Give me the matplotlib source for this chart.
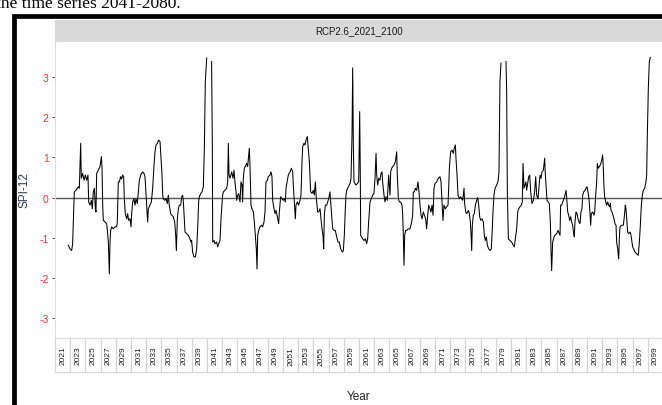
import numpy as np
import matplotlib
matplotlib.use("Agg")
from matplotlib import pyplot as plt
from matplotlib import patches, transforms

# SPI-12 series (decimal year, value)
year = [
    2021.75, 2021.97, 2022.19, 2022.32, 2022.41, 2022.54, 2022.76, 2023.07, 2023.20, 2023.38,
    2023.46, 2023.64, 2023.82, 2023.99, 2024.17, 2024.34, 2024.43, 2024.61, 2024.78, 2024.91,
    2025.04, 2025.18, 2025.31, 2025.39, 2025.48, 2025.70, 2025.92, 2026.10, 2026.19, 2026.27,
    2026.36, 2026.58, 2026.80, 2026.93, 2027.02, 2027.15, 2027.24, 2027.32, 2027.46, 2027.68,
    2027.89, 2028.11, 2028.20, 2028.33, 2028.46, 2028.64, 2028.77, 2028.90, 2029.03, 2029.12,
    2029.25, 2029.43, 2029.56, 2029.69, 2029.87, 2030.00, 2030.09, 2030.22, 2030.39, 2030.53,
    2030.66, 2030.83, 2031.01, 2031.10, 2031.27, 2031.53, 2031.71, 2031.84, 2031.93, 2032.06,
    2032.19, 2032.28, 2032.50, 2032.68, 2032.85, 2033.03, 2033.16, 2033.29, 2033.47, 2033.64,
    2033.82, 2033.95, 2034.08, 2034.17, 2034.25, 2034.43, 2034.61, 2034.78, 2034.91, 2035.04,
    2035.22, 2035.35, 2035.57, 2035.75, 2035.88, 2035.97, 2036.10, 2036.23, 2036.36, 2036.54,
    2036.67, 2036.80, 2036.89, 2037.02, 2037.11, 2037.33, 2037.54, 2037.76, 2037.90, 2037.98,
    2038.11, 2038.29, 2038.47, 2038.64, 2038.77, 2038.90, 2038.99, 2039.17, 2039.34, 2039.52,
    2039.65, 2039.78, 2039.96, 2040.10, 2040.50, 2040.61, 2040.70, 2040.75, 2040.92, 2041.05,
    2041.27, 2041.40, 2041.54, 2041.71, 2041.84, 2041.97, 2042.06, 2042.15, 2042.37, 2042.59,
    2042.72, 2042.81, 2042.90, 2043.03, 2043.25, 2043.42, 2043.55, 2043.68, 2043.82, 2043.90,
    2044.04, 2044.17, 2044.34, 2044.47, 2044.61, 2044.69, 2044.78, 2044.91, 2045.04, 2045.22,
    2045.35, 2045.48, 2045.57, 2045.66, 2045.79, 2045.92, 2046.10, 2046.23, 2046.36, 2046.49,
    2046.58, 2046.67, 2046.80, 2046.97, 2047.19, 2047.32, 2047.50, 2047.63, 2047.76, 2047.94,
    2048.07, 2048.29, 2048.42, 2048.55, 2048.64, 2048.82, 2048.95, 2049.08, 2049.26, 2049.43,
    2049.52, 2049.69, 2049.87, 2050.04, 2050.18, 2050.31, 2050.40, 2050.57, 2050.70, 2050.92,
    2051.10, 2051.27, 2051.36, 2051.49, 2051.62, 2051.71, 2051.89, 2052.06, 2052.24, 2052.37,
    2052.50, 2052.59, 2052.76, 2052.90, 2053.03, 2053.20, 2053.33, 2053.47, 2053.55, 2053.64,
    2053.82, 2053.99, 2054.12, 2054.26, 2054.34, 2054.43, 2054.56, 2054.69, 2054.87, 2055.00,
    2055.13, 2055.26, 2055.35, 2055.44, 2055.57, 2055.75, 2055.88, 2056.01, 2056.18, 2056.27,
    2056.40, 2056.54, 2056.71, 2056.89, 2057.06, 2057.24, 2057.41, 2057.59, 2057.81, 2057.94,
    2058.07, 2058.20, 2058.29, 2058.38, 2058.60, 2058.82, 2058.95, 2059.08, 2059.17, 2059.26,
    2059.34, 2059.61, 2059.96, 2060.09, 2060.18, 2060.22, 2060.48, 2060.66, 2060.83, 2061.01,
    2061.14, 2061.27, 2061.45, 2061.62, 2061.80, 2061.97, 2062.11, 2062.24, 2062.33, 2062.46,
    2062.59, 2062.76, 2062.90, 2063.03, 2063.11, 2063.29, 2063.42, 2063.55, 2063.73, 2063.90,
    2063.99, 2064.08, 2064.17, 2064.30, 2064.43, 2064.61, 2064.78, 2064.96, 2065.04, 2065.18,
    2065.31, 2065.48, 2065.66, 2065.75, 2065.83, 2065.92, 2066.01, 2066.14, 2066.27, 2066.49,
    2066.71, 2066.93, 2067.06, 2067.15, 2067.28, 2067.41, 2067.59, 2067.76, 2067.90, 2068.03,
    2068.16, 2068.29, 2068.47, 2068.60, 2068.77, 2068.90, 2069.04, 2069.17, 2069.34, 2069.47,
    2069.61, 2069.74, 2069.87, 2070.00, 2070.22, 2070.44, 2070.66, 2070.79, 2070.92, 2071.05,
    2071.18, 2071.36, 2071.54, 2071.71, 2071.80, 2071.89, 2072.06, 2072.24, 2072.41, 2072.54,
    2072.68, 2072.76, 2072.90, 2073.03, 2073.20, 2073.38, 2073.51, 2073.64, 2073.82, 2073.90,
    2074.04, 2074.17, 2074.39, 2074.52, 2074.65, 2074.74, 2074.83, 2074.91, 2075.04, 2075.18,
    2075.31, 2075.48, 2075.61, 2075.75, 2075.88, 2076.01, 2076.19, 2076.36, 2076.49, 2076.62,
    2076.76, 2076.89, 2077.06, 2077.24, 2077.41, 2077.50, 2077.63, 2077.76, 2077.90, 2078.11,
    2078.29, 2078.42, 2078.55, 2078.68, 2078.85, 2079.20, 2079.34, 2079.43, 2079.52, 2079.65,
    2079.87, 2080.09, 2080.31, 2080.44, 2080.57, 2080.75, 2080.88, 2081.01, 2081.18, 2081.36,
    2081.49, 2081.58, 2081.71, 2081.84, 2081.97, 2082.06, 2082.19, 2082.33, 2082.46, 2082.59,
    2082.76, 2082.94, 2083.11, 2083.25, 2083.38, 2083.55, 2083.69, 2083.82, 2083.95, 2084.08,
    2084.26, 2084.43, 2084.52, 2084.61, 2084.74, 2084.91, 2085.04, 2085.18, 2085.26, 2085.35,
    2085.48, 2085.66, 2085.79, 2086.01, 2086.19, 2086.45, 2086.53, 2086.67, 2086.80, 2086.97,
    2087.10, 2087.24, 2087.32, 2087.46, 2087.59, 2087.72, 2087.85, 2087.98, 2088.11, 2088.25,
    2088.33, 2088.42, 2088.55, 2088.68, 2088.82, 2088.95, 2089.08, 2089.21, 2089.34, 2089.43,
    2089.56, 2089.74, 2089.87, 2090.00, 2090.13, 2090.26, 2090.39, 2090.48, 2090.57, 2090.75,
    2090.92, 2091.01, 2091.14, 2091.27, 2091.36, 2091.49, 2091.62, 2091.75, 2091.89, 2092.06,
    2092.15, 2092.24, 2092.32, 2092.46, 2092.59, 2092.72, 2092.85, 2092.98, 2093.07, 2093.16,
    2093.29, 2093.42, 2093.55, 2093.68, 2093.82, 2093.90, 2094.04, 2094.17, 2094.25, 2094.34,
    2094.56, 2094.78, 2094.91, 2095.04, 2095.13, 2095.22, 2095.35, 2095.48, 2095.66, 2095.79,
    2095.92, 2096.01, 2096.14, 2096.31, 2096.53, 2096.75, 2096.89, 2097.02, 2097.15, 2097.28,
    2097.41, 2097.59, 2097.76, 2097.85, 2097.94, 2098.07, 2098.20, 2098.33,
]
spi = [
    -1.19, -1.28, -1.32, -1.15, -0.65, 0.14, 0.18, 0.27, 0.23, 1.35,
    0.48, 0.60, 0.43, 0.56, 0.43, 0.56, -0.11, -0.19, -0.07, -0.28,
    0.14, 0.23, -0.28, -0.36, 0.60, 0.68, 0.77, 1.02, 0.73, -0.15,
    -0.57, -0.61, -0.65, -0.90, -1.11, -1.90, -1.11, -0.82, -0.73, -0.78,
    -0.73, -0.73, -0.61, 0.39, 0.39, 0.52, 0.46, 0.56, 0.52, -0.03,
    -0.40, -0.53, -0.40, -0.57, -0.53, -0.73, -0.40, -0.11, -0.03, -0.19,
    -0.03, -0.15, 0.23, 0.43, 0.56, 0.64, 0.60, 0.52, 0.23, -0.23,
    -0.61, -0.28, -0.19, -0.11, 0.23, 0.81, 1.14, 1.31, 1.35, 1.43,
    1.39, 0.98, 0.56, 0.06, -0.03, -0.07, -0.03, -0.15, 0.06, -0.19,
    -0.40, -0.44, -0.48, -0.61, -0.94, -1.32, -0.53, -0.28, -0.19, -0.19,
    0.02, 0.06, -0.11, -0.53, -0.86, -0.90, -0.94, -1.03, -1.11, -1.07,
    -1.36, -1.48, -1.48, -1.28, -0.78, -0.11, 0.02, 0.10, 0.14, 0.27,
    1.23, 2.89, 3.48, 4.20, 4.00, 3.39, 1.23, -1.11, -1.07, -1.15,
    -1.11, -1.23, -1.15, -1.07, -0.53, -0.19, 0.06, 0.14, 0.18, 0.23,
    0.39, 1.35, 0.56, 0.48, 0.64, 0.48, 0.68, 0.39, 0.14, -0.07,
    0.06, 0.10, -0.11, 0.39, 0.31, -0.11, 0.48, 0.73, 0.77, 0.85,
    0.77, 1.06, 1.23, 0.77, -0.19, -0.28, -0.36, -0.61, -0.94, -1.28,
    -1.78, -0.94, -0.82, -0.73, -0.69, -0.73, -0.61, -0.36, 0.39, 0.43,
    0.52, 0.56, 0.64, 0.52, -0.07, -0.28, -0.40, -0.32, -0.48, -0.65,
    -0.36, 0.02, -0.03, -0.07, -0.03, -0.11, 0.23, 0.43, 0.56, 0.64,
    0.73, 0.64, 0.31, -0.11, -0.53, -0.19, -0.11, -0.19, -0.07, 0.06,
    0.89, 1.27, 1.35, 1.31, 1.43, 1.52, 1.23, 0.89, 0.56, 0.14,
    0.10, 0.18, 0.06, 0.39, 0.10, -0.11, -0.36, -0.36, -0.28, -0.53,
    -0.78, -0.94, -1.28, -0.44, -0.19, -0.19, -0.11, -0.03, 0.14, -0.11,
    -0.44, -0.78, -0.82, -0.82, -0.98, -1.11, -1.11, -1.28, -1.36, -1.32,
    -0.94, -0.28, 0.06, 0.18, 0.27, 0.35, 0.48, 1.56, 3.23, 1.23,
    0.39, 0.31, 0.39, 2.14, 0.39, -0.94, -1.03, -1.07, -1.03, -1.15,
    -1.03, -0.61, -0.11, -0.03, 0.06, 0.10, 0.48, 1.10, 0.56, 0.31,
    0.48, 0.43, 0.60, 0.64, 0.39, 0.06, -0.11, 0.02, -0.07, 0.56,
    0.31, 0.06, 0.64, 0.73, 0.77, 0.81, 0.89, 1.14, 0.56, -0.03,
    -0.11, -0.11, -0.19, -0.44, -0.94, -1.69, -0.94, -0.82, -0.82, -0.78,
    -0.78, -0.61, -0.44, 0.14, 0.14, 0.23, 0.18, 0.39, 0.14, -0.19,
    -0.44, -0.53, -0.36, -0.44, -0.53, -0.78, -0.44, -0.19, -0.28, -0.36,
    -0.19, -0.44, 0.23, 0.35, 0.39, 0.48, 0.52, 0.39, -0.11, -0.57,
    -0.19, -0.28, -0.23, -0.19, 0.23, 0.73, 1.14, 1.18, 1.10, 1.23,
    1.31, 0.98, 0.56, 0.06, -0.03, 0.02, -0.03, -0.07, 0.23, -0.15,
    -0.36, -0.40, -0.32, -0.40, -0.61, -0.90, -1.32, -0.69, -0.44, -0.40,
    -0.19, -0.07, 0.00, -0.19, -0.48, -0.57, -0.53, -0.61, -0.94, -1.07,
    -0.98, -1.19, -1.28, -1.32, -1.28, -0.94, -0.36, 0.06, 0.23, 0.31,
    0.39, 0.64, 2.89, 3.35, 4.20, 4.00, 3.39, 2.64, 0.14, -1.03,
    -1.07, -1.11, -1.19, -1.23, -1.03, -0.78, -0.36, -0.28, -0.23, -0.19,
    -0.11, 0.85, 0.23, 0.31, 0.39, 0.18, 0.35, 0.52, 0.56, 0.14,
    -0.15, -0.07, 0.14, 0.52, 0.06, -0.03, 0.27, 0.56, 0.48, 0.64,
    0.68, 0.98, 0.56, 0.31, -0.07, -0.11, -0.15, -0.61, -1.28, -1.82,
    -1.11, -0.98, -0.94, -0.90, -0.82, -0.94, -0.19, -0.19, -0.11, -0.03,
    0.06, 0.18, 0.02, -0.36, -0.44, -0.57, -0.48, -0.61, -0.69, -0.90,
    -0.98, -0.61, -0.36, -0.40, -0.53, -0.61, -0.65, -0.36, -0.28, 0.06,
    0.14, 0.18, 0.23, 0.27, 0.14, -0.03, -0.36, -0.69, -0.40, -0.36,
    -0.44, -0.36, 0.06, 0.39, 0.85, 0.73, 0.77, 0.81, 0.89, 1.06,
    0.73, 0.23, 0.02, -0.11, -0.19, -0.11, -0.19, -0.23, -0.15, -0.32,
    -0.36, -0.44, -0.53, -0.65, -0.69, -1.11, -1.28, -1.53, -1.03, -0.73,
    -0.69, -0.69, -0.48, -0.19, -0.28, -0.53, -0.86, -0.90, -0.86, -0.94,
    -1.11, -1.23, -1.28, -1.36, -1.40, -1.44, -1.11, -0.69, -0.19, 0.06,
    0.18, 0.23, 0.39, 0.56, 1.56, 2.73, 3.39, 3.49,
]

tick_years = list(range(2021, 2100, 2))
y_ticks = [-3, -2, -1, 0, 1, 2, 3]
panel_title = "RCP2.6_2021_2100"
y_upper_limit = 3.5  # values above the scale limit are dropped (as ggplot does)

W, H = 662, 406
plt.rcParams["font.family"] = ["Liberation Sans", "DejaVu Sans"]

fig = plt.figure(figsize=(W / 100, H / 100), dpi=100)
fig.patch.set_facecolor("white")

# document text above the framed figure (its top is cut off in the reference)
fig.text(-4 / W, 1 - 8 / H, "the time series 2041-2080.", fontsize=12.5,
         family="Liberation Serif", va="baseline", ha="left", color="black")

# black frame of the embedded picture
fig.patches.append(patches.Rectangle((13.5 / W, -0.05), 1.2, 1 - 16.5 / H + 0.05,
                                     transform=fig.transFigure, fill=False,
                                     ec="black", lw=3.4, zorder=0))

ax = fig.add_axes([55 / W, (H - 339) / H, 608 / W, 297 / H])
ax.set_facecolor("white")

spi_arr = np.array(spi)
spi_plot = np.where(spi_arr > y_upper_limit, np.nan, spi_arr)
ax.plot(year, spi_plot, color="black", lw=0.75, zorder=3)
ax.axhline(0, color="#555555", lw=1.0, zorder=2)

ax.set_xlim(2020, 2100)
ax.set_ylim(-3.5, 3.9)

for s in ax.spines.values():
    s.set_color("#DDDDDD")
    s.set_linewidth(0.8)

ax.set_yticks(y_ticks)
ax.set_yticklabels([str(t) for t in y_ticks], color="#FF2A2A", fontsize=7.5)
ax.tick_params(axis="y", length=2.5, width=0.6, color="#333333", pad=2)

ax.set_xticks(tick_years)
ax.set_xticklabels([str(t) for t in tick_years], rotation=90, fontsize=6,
                   color="#222222")
ax.tick_params(axis="x", length=0, pad=5.5)

# boxes around the year labels
trans = transforms.blended_transform_factory(ax.transData, ax.transAxes)
box_h = 34 / 297
for t in tick_years:
    ax.add_patch(patches.Rectangle((t - 1, -box_h), 2, box_h, transform=trans,
                                   fc="white", ec="#D4D4D4", lw=0.8,
                                   clip_on=False, zorder=1))

# facet strip
strip_h = 21 / 297
ax.add_patch(patches.Rectangle((0, 1), 1, strip_h, transform=ax.transAxes,
                               fc="#D9D9D9", ec="none", clip_on=False))
ax.text(0.5, 1 + strip_h / 2, panel_title, transform=ax.transAxes,
        ha="center", va="center", fontsize=7, color="#1A1A1A")

ax.set_ylabel("SPI-12", fontsize=8.5, color="#2D3F55")
ax.yaxis.set_label_coords(-24 / 608, 0.5)
ax.set_xlabel("Year", fontsize=8.5, color="#222222")
ax.xaxis.set_label_coords(0.5, -52 / 297)

fig.savefig("out.png", dpi=100)
